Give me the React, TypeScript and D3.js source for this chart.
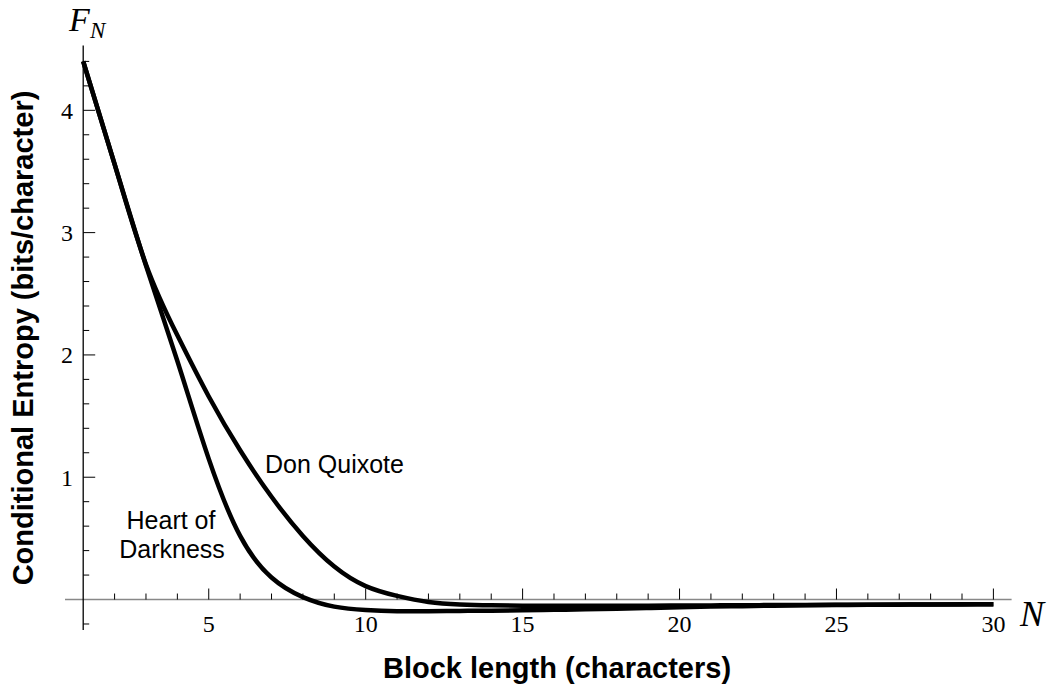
import React from "react";
import * as d3 from "d3";

const blockLengths = [1,2,3,4,5,6,7,8,9,10,11,12,13,14,15,16,17,18,19,20,21,22,23,24,25,26,27,28,29,30];
const heartOfDarkness = [4.40,3.56,2.73,1.95,1.15,0.52,0.18,0.02,-0.058,-0.086,-0.095,-0.095,-0.093,-0.091,-0.088,-0.084,-0.08,-0.075,-0.069,-0.063,-0.058,-0.054,-0.05,-0.047,-0.045,-0.043,-0.042,-0.041,-0.04,-0.039];
const donQuixote = [4.40,3.56,2.74,2.16,1.66,1.22,0.84,0.52,0.27,0.11,0.03,-0.02,-0.04,-0.047,-0.05,-0.051,-0.051,-0.05,-0.05,-0.049,-0.048,-0.047,-0.045,-0.044,-0.043,-0.042,-0.041,-0.04,-0.039,-0.038];
const xMajorTicks = [5,10,15,20,25,30];
const yMajorTicks = [1,2,3,4];

const W = 1052, H = 692;

export default function App() {
  const x = d3.scaleLinear().domain([0.42, 30.58]).range([65, 1011.6]);
  const y = d3.scaleLinear().domain([-0.25, 4.53]).range([630.1, 45.5]);
  const x0 = x(1);
  const y0 = y(0);

  const line = d3.line<[number, number]>()
    .x(d => x(d[0]))
    .y(d => y(d[1]))
    .curve(d3.curveNatural);

  const hod = blockLengths.map((n, i) => [n, heartOfDarkness[i]] as [number, number]);
  const dq = blockLengths.map((n, i) => [n, donQuixote[i]] as [number, number]);

  const xMinor = d3.range(2, 31).filter(v => v % 5 !== 0);
  const yMinor = d3.range(-1, 23).map(k => +(k * 0.2).toFixed(2)).filter(v => Math.abs(v - Math.round(v)) > 1e-6);

  const serif = "'Liberation Serif', 'Times New Roman', serif";
  const sans = "'Liberation Sans', Arial, sans-serif";

  return (
    <svg width={W} height={H} style={{ position: "absolute", left: 0, top: 0, background: "#fff" }}>
      <rect width={W} height={H} fill="#fff" />
      {/* axes */}
      <line x1={x(0.42)} x2={x(30.58)} y1={y0} y2={y0} stroke="#888" strokeWidth={1.3} />
      <line x1={x0} x2={x0} y1={y(4.53)} y2={y(-0.25)} stroke="#000" strokeWidth={1.3} />
      {/* x ticks */}
      {xMinor.map(v => (
        <line key={"xm" + v} x1={x(v)} x2={x(v)} y1={y0} y2={y0 - 6} stroke="#000" strokeWidth={1} />
      ))}
      {xMajorTicks.map(v => (
        <g key={"xM" + v}>
          <line x1={x(v)} x2={x(v)} y1={y0} y2={y0 - 11} stroke="#000" strokeWidth={1} />
          <text x={x(v)} y={632} textAnchor="middle" fontFamily={serif} fontSize={24}>{v}</text>
        </g>
      ))}
      {/* y ticks */}
      {yMinor.map(v => (
        <line key={"ym" + v} x1={x0} x2={x0 + 6} y1={y(v)} y2={y(v)} stroke="#000" strokeWidth={1} />
      ))}
      {yMajorTicks.map(v => (
        <g key={"yM" + v}>
          <line x1={x0} x2={x0 + 12} y1={y(v)} y2={y(v)} stroke="#000" strokeWidth={1} />
          <text x={73} y={y(v) + 8.5} textAnchor="end" fontFamily={serif} fontSize={24}>{v}</text>
        </g>
      ))}
      {/* curves */}
      <path d={line(dq) || ""} fill="none" stroke="#000" strokeWidth={4.5} strokeLinejoin="round" />
      <path d={line(hod) || ""} fill="none" stroke="#000" strokeWidth={4.5} strokeLinejoin="round" />
      {/* curve labels */}
      <text x={265} y={473} fontFamily={sans} fontSize={25}>Don Quixote</text>
      <text x={171} y={529} textAnchor="middle" fontFamily={sans} fontSize={25}>Heart of</text>
      <text x={172} y={558} textAnchor="middle" fontFamily={sans} fontSize={25}>Darkness</text>
      {/* axis end labels */}
      <text x={69} y={31} fontFamily={serif} fontStyle="italic" fontSize={34}>F</text>
      <text x={90} y={38} fontFamily={serif} fontStyle="italic" fontSize={23}>N</text>
      <text x={1020} y={626} fontFamily={serif} fontStyle="italic" fontSize={36}>N</text>
      {/* axis titles */}
      <text x={557} y={678} textAnchor="middle" fontFamily={sans} fontWeight="bold" fontSize={29}>Block length (characters)</text>
      <text transform={`translate(33,338) rotate(-90)`} textAnchor="middle" fontFamily={sans} fontWeight="bold" fontSize={29}>Conditional Entropy (bits/character)</text>
    </svg>
  );
}
